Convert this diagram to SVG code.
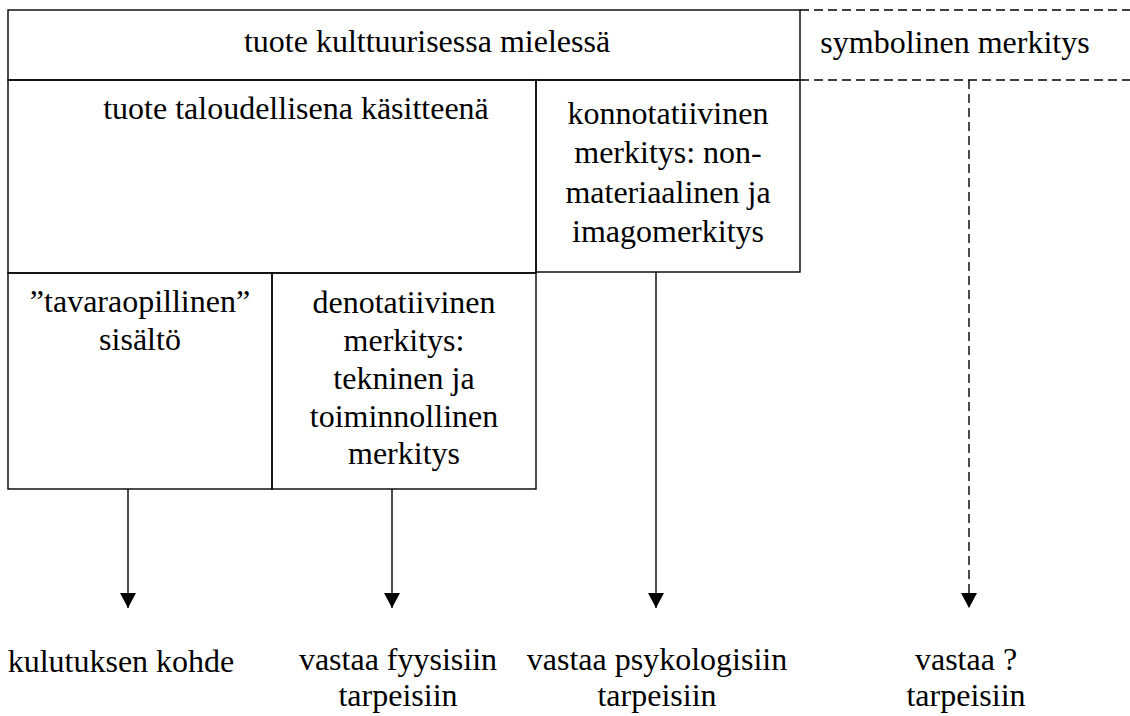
<svg xmlns="http://www.w3.org/2000/svg" width="1130" height="716" viewBox="0 0 1130 716">
<style>
.box{fill:none;stroke:#000;stroke-width:1.4}
.dash{fill:none;stroke:#000;stroke-width:1.4;stroke-dasharray:9 5}
.ln{stroke:#000;stroke-width:1.4;fill:none}
text{font-family:'Liberation Serif','Times New Roman',Times,serif;font-size:32px;fill:#000;text-anchor:middle}
</style>
<defs>
<marker id="ah" markerWidth="16" markerHeight="15" refX="8" refY="15" orient="0" markerUnits="userSpaceOnUse">
<path d="M0,0 L16,0 L8,15 Z" fill="#000"/>
</marker>
</defs>
<rect width="1130" height="716" fill="#fff"/>

<g id="kulttuuri">
<rect class="box" x="8" y="10" width="792" height="70"/>
<text x="427" y="52" font-family="Liberation Serif, serif">tuote kulttuurisessa mielessä</text>
</g>

<g id="symbolinen">
<line class="dash" x1="800" y1="10" x2="1130" y2="10"/>
<line class="dash" x1="800" y1="80" x2="1130" y2="80"/>
<text x="955" y="53" font-family="Liberation Serif, serif">symbolinen merkitys</text>
</g>

<g id="taloudellinen">
<rect class="box" x="8" y="80" width="528" height="193"/>
<text x="296" y="119" font-family="Liberation Serif, serif">tuote taloudellisena käsitteenä</text>
</g>

<g id="konnotatiivinen">
<rect class="box" x="536" y="80" width="264" height="192"/>
<text x="668" y="124" font-family="Liberation Serif, serif">konnotatiivinen</text>
<text x="668" y="163" font-family="Liberation Serif, serif">merkitys: non-</text>
<text x="668" y="203" font-family="Liberation Serif, serif">materiaalinen ja</text>
<text x="668" y="242" font-family="Liberation Serif, serif">imagomerkitys</text>
</g>

<g id="tavaraopillinen">
<rect class="box" x="8" y="273" width="264" height="216"/>
<text x="140" y="312" font-family="Liberation Serif, serif">”tavaraopillinen”</text>
<text x="140" y="350" font-family="Liberation Serif, serif">sisältö</text>
</g>

<g id="denotatiivinen">
<rect class="box" x="272" y="273" width="264" height="216"/>
<text x="404" y="313" font-family="Liberation Serif, serif">denotatiivinen</text>
<text x="404" y="351" font-family="Liberation Serif, serif">merkitys:</text>
<text x="404" y="389" font-family="Liberation Serif, serif">tekninen ja</text>
<text x="404" y="427" font-family="Liberation Serif, serif">toiminnollinen</text>
<text x="404" y="464" font-family="Liberation Serif, serif">merkitys</text>
</g>

<g id="connectors">
<line class="ln" x1="128" y1="489" x2="128" y2="608" marker-end="url(#ah)"/>
<line class="ln" x1="392" y1="489" x2="392" y2="608" marker-end="url(#ah)"/>
<line class="ln" x1="656" y1="272" x2="656" y2="608" marker-end="url(#ah)"/>
<line class="dash" x1="969" y1="80" x2="969" y2="608" marker-end="url(#ah)"/>
</g>

<g id="kulutuksen">
<text x="121" y="672" font-family="Liberation Serif, serif">kulutuksen kohde</text>
</g>
<g id="fyysisiin">
<text x="398" y="670" font-family="Liberation Serif, serif">vastaa fyysisiin</text>
<text x="398" y="706" font-family="Liberation Serif, serif">tarpeisiin</text>
</g>
<g id="psykologisiin">
<text x="657" y="670" font-family="Liberation Serif, serif">vastaa psykologisiin</text>
<text x="657" y="706" font-family="Liberation Serif, serif">tarpeisiin</text>
</g>
<g id="tuntematon">
<text x="966" y="670" font-family="Liberation Serif, serif">vastaa ?</text>
<text x="966" y="706" font-family="Liberation Serif, serif">tarpeisiin</text>
</g>
</svg>
